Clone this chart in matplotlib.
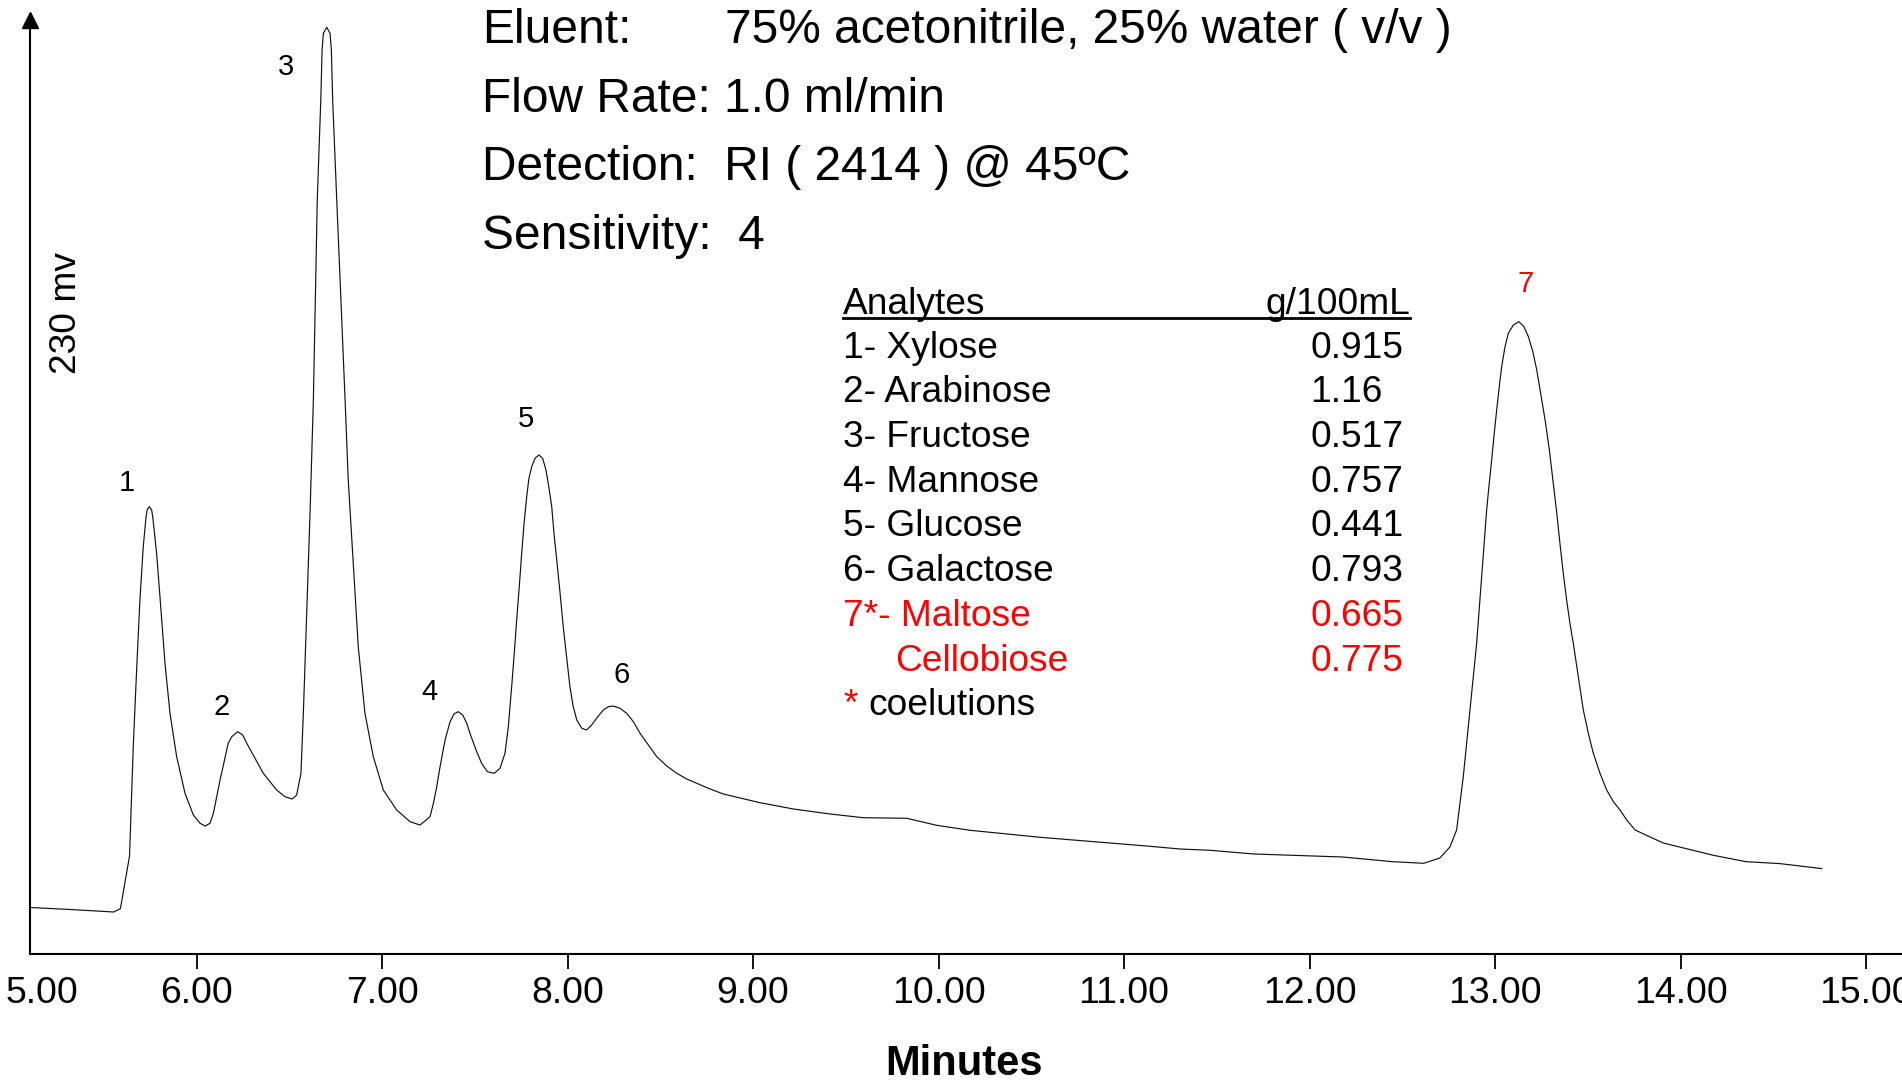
import matplotlib
matplotlib.use("Agg")
import matplotlib.pyplot as plt
from matplotlib.lines import Line2D

plt.rcParams['font.family'] = ['Liberation Sans', 'DejaVu Sans']

minutes = [5.102, 5.318, 5.554, 5.590, 5.639, 5.659, 5.678, 5.695, 5.713, 5.728,
           5.735, 5.746, 5.758, 5.764, 5.785, 5.803, 5.830, 5.857, 5.893, 5.938,
           5.983, 6.019, 6.046, 6.073, 6.091, 6.127, 6.171, 6.190, 6.222, 6.249,
           6.271, 6.360, 6.432, 6.477, 6.516, 6.540, 6.563, 6.576, 6.594, 6.612,
           6.630, 6.651, 6.670, 6.677, 6.684, 6.702, 6.720, 6.727, 6.734, 6.756,
           6.801, 6.818, 6.845, 6.872, 6.908, 6.953, 7.007, 7.079, 7.151, 7.205,
           7.259, 7.277, 7.295, 7.313, 7.340, 7.367, 7.388, 7.411, 7.435, 7.457,
           7.474, 7.507, 7.537, 7.568, 7.605, 7.636, 7.663, 7.681, 7.699, 7.713,
           7.726, 7.740, 7.753, 7.766, 7.780, 7.792, 7.807, 7.825, 7.846, 7.866,
           7.884, 7.899, 7.915, 7.927, 7.942, 7.960, 7.977, 7.996, 8.013, 8.031,
           8.050, 8.077, 8.103, 8.130, 8.157, 8.193, 8.220, 8.247, 8.283, 8.319,
           8.355, 8.391, 8.436, 8.481, 8.535, 8.589, 8.643, 8.696, 8.759, 8.840,
           9.038, 9.217, 9.415, 9.595, 9.829, 9.990, 10.170, 10.368, 10.547, 10.745,
           10.942, 11.122, 11.302, 11.464, 11.699, 12.181, 12.447, 12.616, 12.703, 12.757,
           12.793, 12.811, 12.829, 12.847, 12.865, 12.883, 12.901, 12.928, 12.941, 12.955,
           12.968, 12.982, 12.995, 13.009, 13.022, 13.036, 13.054, 13.072, 13.099, 13.129,
           13.156, 13.180, 13.204, 13.225, 13.246, 13.270, 13.293, 13.314, 13.333, 13.350,
           13.368, 13.386, 13.404, 13.422, 13.449, 13.476, 13.503, 13.530, 13.566, 13.602,
           13.638, 13.674, 13.710, 13.755, 13.907, 14.177, 14.353, 14.536, 14.761]
signal_mv = [11.24, 10.75, 10.14, 10.97, 23.82, 50.52, 70.06, 86.36, 99.38, 106.71,
             108.51, 109.15, 108.34, 106.71, 97.77, 87.16, 70.89, 58.68, 48.08, 39.14,
             33.83, 31.81, 31.15, 31.81, 34.25, 42.38, 51.35, 52.96, 54.18, 53.38,
             51.35, 44.02, 39.94, 38.30, 37.74, 38.72, 44.02, 58.68, 83.11, 107.54,
             135.21, 184.07, 208.50, 220.72, 224.79, 226.26, 224.79, 220.72, 208.50, 184.07,
             135.21, 115.67, 95.32, 74.95, 58.68, 48.08, 39.94, 35.06, 32.20, 31.39,
             33.42, 36.69, 40.75, 45.63, 52.16, 56.63, 58.51, 59.07, 58.26, 56.24,
             53.79, 49.71, 46.46, 44.41, 44.02, 45.24, 48.91, 55.40, 65.18, 73.34,
             81.47, 89.61, 97.77, 105.09, 111.59, 116.09, 118.92, 120.97, 121.78, 120.97,
             118.11, 114.03, 109.15, 102.65, 96.13, 87.99, 79.83, 72.11, 65.18, 60.29,
             57.04, 55.01, 54.60, 55.82, 57.46, 59.48, 60.29, 60.46, 59.90, 58.68,
             56.63, 53.79, 50.93, 48.08, 45.80, 44.02, 42.63, 41.58, 40.36, 38.96,
             36.84, 35.30, 34.08, 33.17, 33.03, 31.32, 30.10, 29.19, 28.39, 27.65,
             26.92, 26.26, 25.53, 25.21, 24.31, 23.57, 22.43, 22.04, 23.33, 26.02,
             30.17, 36.69, 43.19, 51.35, 59.48, 67.62, 75.78, 92.05, 100.21, 108.34,
             114.45, 120.56, 126.66, 132.77, 138.07, 143.35, 148.24, 151.51, 153.54, 154.34,
             153.12, 150.68, 147.01, 142.54, 136.85, 130.33, 123.00, 114.87, 107.54, 100.21,
             92.88, 86.36, 80.66, 75.78, 67.62, 59.48, 53.79, 48.91, 44.02, 39.94,
             37.08, 35.06, 32.61, 30.17, 26.99, 23.99, 22.43, 21.96, 20.74]

peak_ids = ['1', '2', '3', '4', '5', '6', '7']
peak_label_x = [5.626, 6.136, 6.482, 7.256, 7.774, 8.293, 13.165]
peak_label_y = [113.1, 58.14, 214.5, 61.95, 128.6, 66.03, 161.7]
peak_label_color = ['black'] * 6 + ['red']

tick_minutes = [6, 7, 8, 9, 10, 11, 12, 13, 14, 15]

eluent = "75% acetonitrile, 25% water ( v/v )"
flow_rate = "Flow Rate: 1.0 ml/min"
detection = "Detection:  RI ( 2414 ) @ 45\u00baC"
sensitivity = "Sensitivity:  4"

analytes = ["1- Xylose", "2- Arabinose", "3- Fructose", "4- Mannose",
            "5- Glucose", "6- Galactose", "7*- Maltose", "Cellobiose"]
conc_g100ml = [0.915, 1.16, 0.517, 0.757, 0.441, 0.793, 0.665, 0.775]
coeluting = [False, False, False, False, False, False, True, True]

W, H = 1902, 1081


def fp(x, y):
    # pixel position -> figure fraction
    return x / W, 1 - y / H


fig = plt.figure(figsize=(W / 100, H / 100), dpi=100)
ax = fig.add_axes([30 / W, 1 - 953.5 / H, 1 - 30 / W, (953.5 - 20) / H])

ax.plot(minutes, signal_mv, color='#111111', lw=0.85)
ax.set_xlim(5.1024, 15.194)
ax.set_ylim(0, 228.04)

for s in ['top', 'right']:
    ax.spines[s].set_visible(False)
for s in ['left', 'bottom']:
    ax.spines[s].set_linewidth(1.5)
ax.set_yticks([])
ax.set_xticks(tick_minutes)
ax.set_xticklabels(['%.2f' % t for t in tick_minutes])
ax.tick_params(axis='x', length=10.8, width=1.3, pad=5.2, labelsize=26.9, direction='out')
ax.plot([0], [1], marker='^', ms=11, color='black', transform=ax.transAxes, clip_on=False)
fig.text(*fp(6, 1003.3), '5.00', fontsize=26.9, ha='left', va='baseline')

for pid, px, py, pc in zip(peak_ids, peak_label_x, peak_label_y, peak_label_color):
    ax.text(px, py, pid, color=pc, fontsize=21, ha='center', va='baseline')

fig.text(*fp(67, 313), '230 mv', rotation=90, fontsize=26.7, ha='center', va='center')
fig.text(*fp(964, 1075), 'Minutes', fontsize=30, fontweight='bold', ha='center', va='baseline')

# run conditions
hs = 34.5
fig.text(*fp(482, 42.7), 'Eluent:', fontsize=hs, va='baseline')
fig.text(*fp(725, 42.7), eluent, fontsize=hs, va='baseline')
fig.text(*fp(482, 111.8), flow_rate, fontsize=hs, va='baseline')
fig.text(*fp(482, 179.8), detection, fontsize=hs, va='baseline')
fig.text(*fp(482, 248.9), sensitivity, fontsize=hs, va='baseline')

# analyte table
ts = 26.7
fig.text(*fp(843, 314), 'Analytes', fontsize=ts, va='baseline')
fig.text(*fp(1410, 314), 'g/100mL', fontsize=ts, va='baseline', ha='right')
fig.add_artist(Line2D([843 / W, 1410 / W], [1 - 317.8 / H] * 2, lw=2.0, color='black'))
for i, (name, val, co) in enumerate(zip(analytes, conc_g100ml, coeluting)):
    yb = 357.7 + 44.7 * i
    col = 'red' if co else 'black'
    xn = 843 if name[0].isdigit() else 895
    fig.text(*fp(xn, yb), name, fontsize=ts, va='baseline', color=col)
    fig.text(*fp(1310, yb), str(val), fontsize=ts, va='baseline', color=col)
yb = 357.7 + 44.7 * len(analytes)
fig.text(*fp(843, yb), '*', fontsize=ts, va='baseline', color='red')
fig.text(*fp(868, yb), 'coelutions', fontsize=ts, va='baseline')

fig.savefig('out.png', dpi=100)
